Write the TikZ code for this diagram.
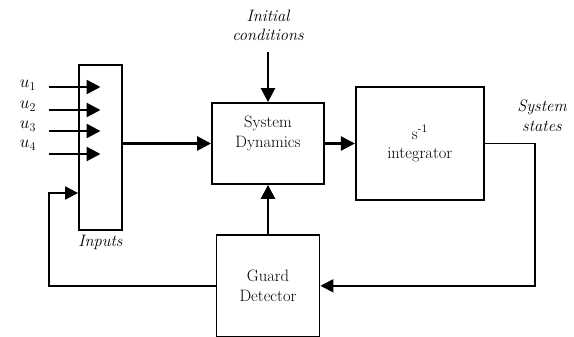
\documentclass[tikz,border=0pt]{standalone}
\usetikzlibrary{arrows.meta}
\usetikzlibrary{positioning}
\tikzset{
	block/.style={rectangle, draw, line width=1.8pt, align=center, inner sep=0pt},
	arrow/.style={draw, -{Triangle[length=14pt, width=14pt]}, line width=2.6pt},
	wire/.style={draw, line width=1.8pt},
	fbarrow/.style={wire, -{Triangle[length=13pt, width=13pt]}},
	caption/.style={align=center, font=\fontsize{16.5}{19.5}\selectfont\itshape}
}

\begin{document}
\begin{tikzpicture}[x=1pt, y=-1pt, every node/.append style={font=\fontsize{16.5}{19.5}\selectfont}]
\useasboundingbox (0,0) rectangle (574,337);

\node[block, minimum width=43pt, minimum height=165pt] (inputs) at (100.5,147.5) {};
\node[block, minimum width=112pt, minimum height=81pt,
	label={[align=center, yshift=10pt]center:System\\Dynamics}] (sysdyn) at (268,143.5) {};
\node[block, right=30pt of sysdyn, minimum width=128pt, minimum height=113pt] (integ)
	{s\textsuperscript{-1}\\integrator};
\node[block, below=49pt of sysdyn, minimum width=103pt, minimum height=102pt] (guard)
	{Guard\\Detector};

\node[caption] (init) at (268,25.5) {Initial\\conditions};
\node[caption] (states) at (542,116) {System\\states};
\node[caption, below=1pt of inputs] (inlabel) {Inputs};

\foreach \i/\y/\ly in {1/87/85, 2/110/106, 3/131/126, 4/154/145} {
	\coordinate (u\i) at (49,\y);
	\node (ulabel\i) at (28,\ly) {$u_{\i}$};
	\draw [arrow] (u\i) -- (inputs.center |- u\i);
}

\coordinate (fbin) at (inputs.west |- 0,193);

\draw [arrow] ([yshift=-7pt]init.south) -- (sysdyn.north);
\draw [arrow] (inputs.east |- sysdyn.west) -- (sysdyn.west);
\draw [arrow] (sysdyn.east) -- (integ.west |- sysdyn.east);
\draw [arrow] (guard) -- (sysdyn);

\draw [fbarrow] (integ.east) -- ++(50,0) |- (guard.east);
\draw [fbarrow] (guard.west) -| ([xshift=-29pt]fbin) -- (fbin);

\end{tikzpicture}
\end{document}
